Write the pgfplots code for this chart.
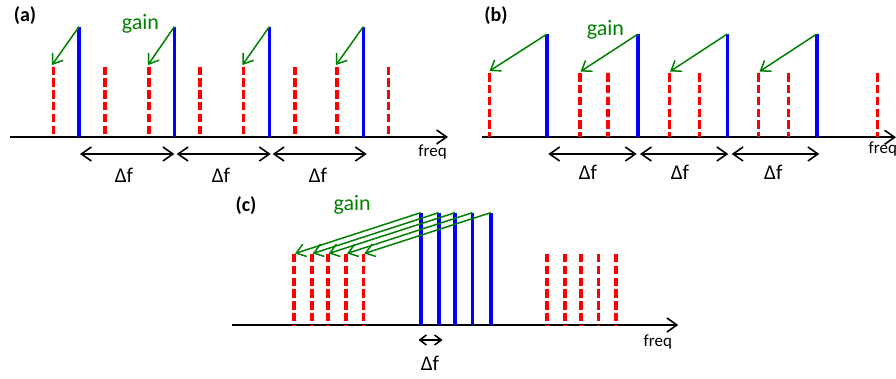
\documentclass[border=0pt]{standalone}
\usepackage{fontspec}
\setmainfont{Carlito}
\usepackage{pgfplots}
\pgfplotsset{compat=1.18}
\usepackage{pgfplotstable}
\usetikzlibrary{arrows.meta}
\definecolor{redL}{RGB}{255,0,0}
\definecolor{blueL}{RGB}{0,0,255}
\definecolor{greenL}{RGB}{0,128,0}

% blue pump lines: x, top, bottom (pixel-like units, y downward)
\pgfplotstableread{
x ytop ybot
79 26.7 137
174.3 26.7 137
269.3 26.7 137
363.3 26.7 137
546.7 34.3 137.3
637.7 34.3 137.3
727.3 34.3 137.3
816.7 34.3 137.3
420.7 212.7 325
438.7 212.7 325
455 212.7 325
472.3 212.7 325
490.7 212.7 325
}\bluelines

% red dashed lines
\pgfplotstableread{
x ytop ybot
53.3 66.7 137
105 66.7 137
149 66.7 137
200 66.7 137
243.3 66.7 137
295 66.7 137
336.7 66.7 137
388.3 66.7 137
489.3 73.3 137.3
580 73.3 137.3
607.7 73.3 137.3
669.3 73.3 137.3
699.3 73.3 137.3
758.3 73.3 137.3
788.3 73.3 137.3
877.3 73.3 137.3
294 254 325
311.7 254 325
327.7 254 325
346 254 325
363.3 254 325
546.7 254 325
565 254 325
581 254 325
598.3 254 325
616 254 325
}\redlines

% green gain arrows
\pgfplotstableread{
x0 y0 x1 y1
79 26.7 52 65
174.3 26.7 148 65
269.3 26.7 242.5 65
363.3 26.7 336 65
546.7 34.3 489.5 71
637.7 34.3 580.5 71.5
727.3 34 670 71.5
816.7 34 759.5 71.5
420.7 212.7 295 253.5
438.7 212.7 312.7 253.5
455 212.7 328.7 253.5
472.3 212.7 347 253.5
490.7 212.7 364.3 253.5
}\gainarrows

% delta f double arrows, panels (a) and (b)
\pgfplotstableread{
x0 x1 y
80 174.3 154
176.7 270.7 154
272.7 366.7 154
548.3 636.7 154
640 728.3 154
731.7 819.3 154
}\dfarrows

% delta f double arrow, panel (c)
\pgfplotstableread{
x0 x1 y
418.5 442.5 340
}\dfarrowc

% frequency axes
\pgfplotstableread{
x0 x1 y
10 448 137
481.7 896 137.3
231.7 678.3 325
}\freqaxes

\begin{document}
\begin{tikzpicture}
\useasboundingbox (0,0) rectangle (448pt,189.5pt);
\begin{axis}[
  at={(0,0)}, anchor=south west,
  scale only axis, width=448pt, height=189.5pt,
  xmin=0, xmax=896, ymin=0, ymax=379, y dir=reverse,
  hide axis, clip=false,
]
% frequency axes
\addplot[black, line width=0.8pt, -{Straight Barb[length=5pt,width=7pt]},
  quiver={u=\thisrow{x1}-\thisrow{x0}, v=0}] table[x=x0,y=y] {\freqaxes};
% red dashed
\addplot[redL, line width=1.8pt, dash pattern=on 4.2pt off 1.7pt,
  quiver={u=0, v=\thisrow{ybot}-\thisrow{ytop}}] table[x=x,y=ytop] {\redlines};
% blue
\addplot[blueL, line width=1.8pt,
  quiver={u=0, v=\thisrow{ytop}-\thisrow{ybot}}] table[x=x,y=ybot] {\bluelines};
% gain arrows
\addplot[greenL, line width=0.75pt, -{Straight Barb[length=4.5pt,width=6.5pt]},
  quiver={u=\thisrow{x1}-\thisrow{x0}, v=\thisrow{y1}-\thisrow{y0}}] table[x=x0,y=y0] {\gainarrows};
% delta f arrows
\addplot[black, line width=0.8pt, {Straight Barb[length=5pt,width=7pt]}-{Straight Barb[length=5pt,width=7pt]},
  quiver={u=\thisrow{x1}-\thisrow{x0}, v=0}] table[x=x0,y=y] {\dfarrows};
\addplot[black, line width=0.8pt, {Straight Barb[length=3.3pt,width=5pt]}-{Straight Barb[length=3.3pt,width=5pt]},
  quiver={u=\thisrow{x1}-\thisrow{x0}, v=0}] table[x=x0,y=y] {\dfarrowc};

% labels
\node[font=\bfseries\fontsize{10}{12}\selectfont] at (axis cs:25,15.5) {(a)};
\node[font=\bfseries\fontsize{10}{12}\selectfont] at (axis cs:496,15.5) {(b)};
\node[font=\bfseries\fontsize{10}{12}\selectfont] at (axis cs:246,205.5) {(c)};

\node[font=\fontsize{11}{13}\selectfont, text=greenL, anchor=base west, inner sep=0pt] at (axis cs:121.5,30) {gain};
\node[font=\fontsize{11}{13}\selectfont, text=greenL, anchor=base west, inner sep=0pt] at (axis cs:586.5,36) {gain};
\node[font=\fontsize{11}{13}\selectfont, text=greenL, anchor=base west, inner sep=0pt] at (axis cs:333.3,211) {gain};

\node[font=\fontsize{8.5}{10}\selectfont, anchor=base west, inner sep=0pt] at (axis cs:418,156.7) {freq};
\node[font=\fontsize{8.5}{10}\selectfont, anchor=base west, inner sep=0pt] at (axis cs:868.3,154) {freq};
\node[font=\fontsize{8.5}{10}\selectfont, anchor=base west, inner sep=0pt] at (axis cs:643.3,346.7) {freq};

\node[font=\fontsize{10.5}{12}\selectfont, anchor=base, inner sep=0pt] at (axis cs:124,183) {Δf};
\node[font=\fontsize{10.5}{12}\selectfont, anchor=base, inner sep=0pt] at (axis cs:221,183) {Δf};
\node[font=\fontsize{10.5}{12}\selectfont, anchor=base, inner sep=0pt] at (axis cs:318,183) {Δf};
\node[font=\fontsize{10.5}{12}\selectfont, anchor=base, inner sep=0pt] at (axis cs:588,180) {Δf};
\node[font=\fontsize{10.5}{12}\selectfont, anchor=base, inner sep=0pt] at (axis cs:680,180) {Δf};
\node[font=\fontsize{10.5}{12}\selectfont, anchor=base, inner sep=0pt] at (axis cs:773.3,180) {Δf};
\node[font=\fontsize{10.5}{12}\selectfont, anchor=base, inner sep=0pt] at (axis cs:430,371) {Δf};
\end{axis}
\end{tikzpicture}
\end{document}
